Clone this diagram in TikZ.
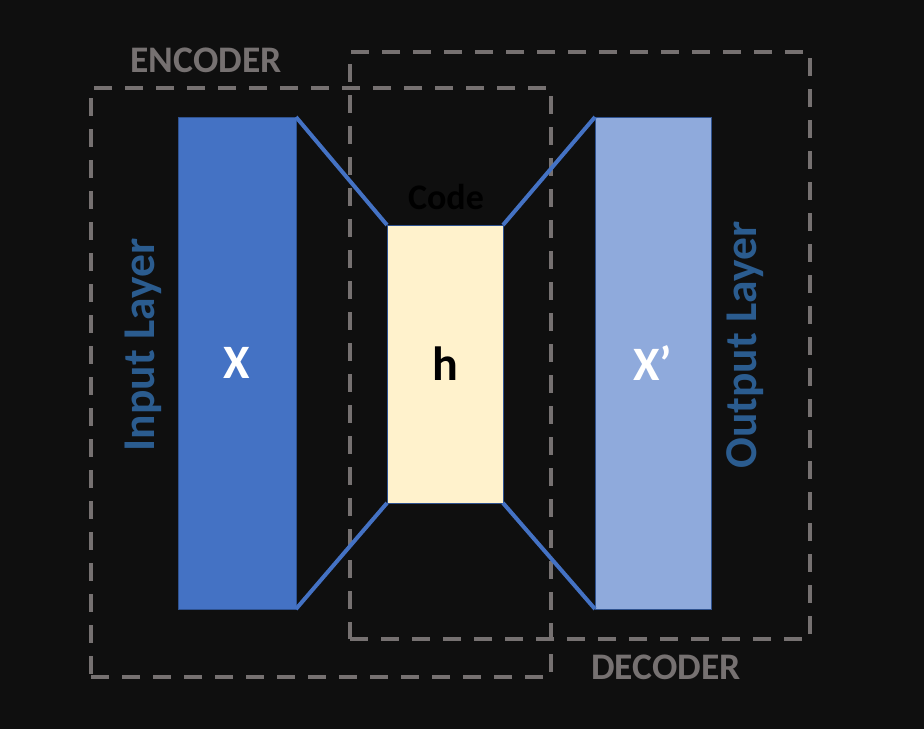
\documentclass[tikz,border=0pt]{standalone}
\usepackage{fontspec}
\setmainfont{Carlito}
\definecolor{bg}{HTML}{0F0F0F}
\definecolor{dashgray}{HTML}{767171}
\definecolor{inblue}{HTML}{4472C4}
\definecolor{inborder}{HTML}{2F528F}
\definecolor{codefill}{HTML}{FFF2CC}
\definecolor{outblue}{HTML}{8FAADC}
\definecolor{labelblue}{HTML}{2B5C8F}
\begin{document}
\begin{tikzpicture}[x=1pt,y=-1pt,
  dashbox/.style={draw=dashgray,line width=3.5pt,dash pattern=on 18pt off 13pt,rectangle,inner sep=0pt,outer sep=0pt},
  layer/.style={rectangle,draw=inborder,line width=1pt,inner sep=0pt,outer sep=0pt},
  link/.style={draw=inblue,line width=4pt},
  boxlabel/.style={text=dashgray,font=\fontsize{37.5}{40}\selectfont\bfseries},
  sidelabel/.style={text=labelblue,font=\fontsize{45.5}{48}\selectfont\bfseries,rotate=90}
]
\useasboundingbox[fill=bg] (0,0) rectangle (924,729);
\node[dashbox,minimum width=460pt,minimum height=589pt] (enc) at (321,382.5) {};
\node[dashbox,minimum width=460pt,minimum height=587pt] (dec) at (580,345.5) {};
\node[boxlabel] (enclabel) at (206,60) {ENCODER};
\node[boxlabel] (declabel) at (666,667) {DECODER};
\node[layer,fill=inblue,minimum width=118pt,minimum height=492pt,text=white,font=\fontsize{48}{50}\selectfont\bfseries] (in) at (237,363) {X};
\node[layer,fill=codefill,minimum width=116pt,minimum height=278pt,text=black,font=\fontsize{48}{50}\selectfont\bfseries] (code) at (445,364) {h};
\node[layer,fill=outblue,minimum width=116pt,minimum height=492pt,text=white,font=\fontsize{48}{50}\selectfont\bfseries] (out) at (653,363) {X’};
\node[text=black,font=\fontsize{36}{38}\selectfont\bfseries] (codelabel) at (446,197) {Code};
\node[sidelabel] (inlabel) at (143,345) {Input Layer};
\node[sidelabel] (outlabel) at (745,345) {Output Layer};
\draw[link] (in.north east) -- (code.north west);
\draw[link] (in.south east) -- (code.south west);
\draw[link] (code.north east) -- (out.north west);
\draw[link] (code.south east) -- (out.south west);
\end{tikzpicture}
\end{document}
